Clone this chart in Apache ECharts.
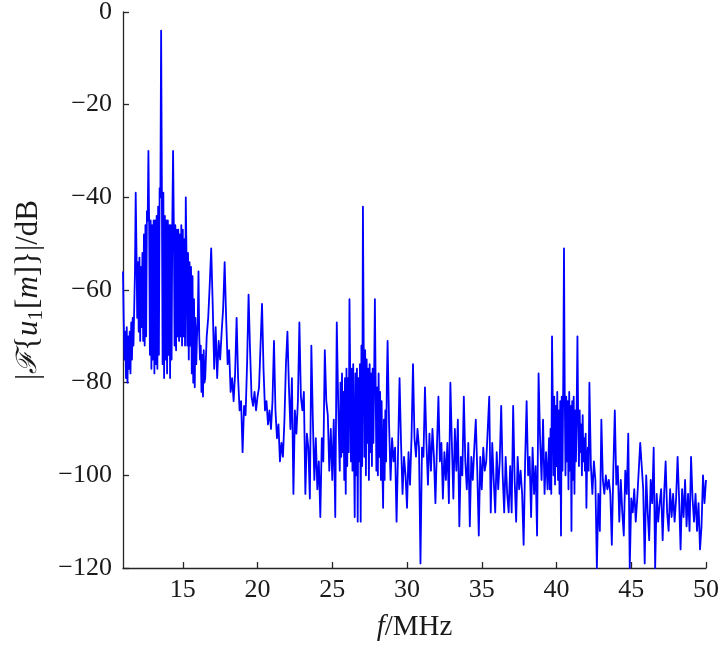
<!DOCTYPE html>
<html>
<head>
<meta charset="utf-8">
<script src="https://cdn.jsdelivr.net/npm/echarts@6/dist/echarts.min.js"></script>
<style>
html,body{margin:0;padding:0;background:#fff;}
#chart{width:719px;height:645px;}
</style>
</head>
<body>
<div id="chart"></div>
<script>
// Spectrum magnitude |F{u1[m]}| in dB.
// Dense bands are sampled every 0.05 MHz, the rest every 0.1 MHz.

// 11.00 ... 16.45 MHz, step 0.05
const band1Start = 11.0, band1Step = 0.05;
const band1Db = [
  -56,-67,-75,-69,-79,-68,-80,-70,-77,-69,
  -78,-67,-75,-66,-72,-64,-56,-39,-51,-66,
  -54,-69,-53,-71,-55,-68,-52,-71,-48,-72,
  -46,-70,-43,-45,-30,-46,-74,-45,-77,-46,
  -75,-45,-78,-45,-76,-44,-77,-42,-74,-38,
  -40,-4,-38,-76,-39,-79,-44,-75,-45,-78,
  -45,-74,-46,-79,-46,-75,-45,-30,-46,-72,
  -46,-73,-47,-70,-47,-71,-48,-70,-46,-72,
  -47,-70,-49,-72,-40,-53,-72,-52,-75,-54,
  -72,-55,-78,-57,-80,-62,-81,-66,-76,-70,
  -67,-56,-70,-75,-72,-82,-74,-83,-73,-80
];
// 16.5 ... 25.4 MHz, step 0.1
const band2Start = 16.5, band2Step = 0.1;
const band2Db = [
  -79,-70,-66,-59,-51,
  -63,-77,-68,-79,-71,-75,-69,-64,-54,-66,
  -76,-73,-82,-79,-84,-78,-66,-79,-86,-84,
  -95,-85,-87,-76,-61,-73,-83,-85,-82,-86,
  -83,-81,-72,-63,-77,-86,-84,-89,-86,-90,
  -84,-71,-86,-92,-89,-97,-93,-96,-88,-76,
  -69,-81,-90,-79,-104,-86,-91,-84,-67,-83,
  -86,-82,-104,-91,-94,-105,-72,-88,-101,-92,
  -103,-97,-109,-92,-97,-73,-84,-87,-99,-90,
  -101,-88,-109,-67,-85
];
// 25.50 ... 28.65 MHz, step 0.05
const band3Start = 25.5, band3Step = 0.05;
const band3Db = [
  -99,-80,-96,-78,-95,-82,-101,-79,-104,-77,
  -98,-79,-95,-62,-78,-97,-77,-99,-76,-94,
  -109,-78,-100,-77,-110,-79,-97,-76,-110,-72,
  -98,-42,-71,-96,-73,-100,-75,-93,-77,-101,
  -76,-95,-78,-98,-77,-93,-79,-62,-80,-99,
  -81,-100,-78,-96,-82,-101,-84,-98,-107,-88,
  -101,-86,-97,-80
];
// 28.7 ... 39.4 MHz, step 0.1
const band4Start = 28.7, band4Step = 0.1;
const band4Db = [
  -71,-89,-101,
  -92,-97,-94,-110,-95,-79,-93,-104,-96,-100,
  -107,-95,-102,-92,-76,-92,-96,-90,-94,-119,
  -94,-96,-81,-93,-102,-91,-99,-90,-96,-106,
  -94,-83,-97,-93,-105,-95,-101,-93,-106,-80,
  -93,-105,-90,-99,-88,-111,-96,-100,-83,-97,
  -103,-93,-111,-96,-101,-94,-88,-99,-113,-96,
  -103,-94,-99,-97,-90,-83,-108,-93,-101,-108,
  -95,-103,-97,-85,-100,-108,-96,-104,-108,-98,
  -108,-85,-101,-110,-96,-103,-99,-104,-115,-97,
  -84,-100,-96,-109,-94,-104,-98,-113,-78,-92,
  -101,-88,-104,-95,-103
];
// 39.50 ... 42.15 MHz, step 0.05
const band5Start = 39.5, band5Step = 0.05;
const band5Db = [
  -92,-103,-90,-104,-70,-84,-100,-83,-102,-85,
  -98,-82,-101,-86,-104,-84,-113,-83,-99,-80,
  -51,-82,-100,-83,-97,-84,-103,-82,-99,-85,
  -112,-84,-101,-83,-104,-86,-97,-85,-70,-88,
  -98,-86,-95,-89,-100,-87,-97,-92,-99,-91,
  -107,-96,-94,-99
];
// 42.2 ... 50.0 MHz, step 0.1
const band6Start = 42.2, band6Step = 0.1;
const band6Db = [
  -80,-98,-104,-97,-101,-120,-104,-112,
  -88,-101,-104,-100,-103,-101,-104,-115,-99,-86,
  -102,-98,-110,-101,-108,-113,-99,-104,-91,-120,
  -105,-108,-103,-110,-105,-99,-93,-98,-103,-119,
  -100,-108,-114,-101,-106,-94,-120,-104,-110,-106,
  -103,-114,-104,-97,-108,-112,-103,-109,-104,-110,
  -105,-96,-105,-116,-103,-109,-101,-111,-104,-112,
  -96,-105,-110,-104,-112,-106,-116,-111,-100,-106,
  -101
];

const xTicks = [15, 20, 25, 30, 35, 40, 45, 50];
const xMin = 11, xMax = 50;
const yMin = -120, yMax = 0, yStep = 20;

const bands = [
  [band1Start, band1Step, band1Db],
  [band2Start, band2Step, band2Db],
  [band3Start, band3Step, band3Db],
  [band4Start, band4Step, band4Db],
  [band5Start, band5Step, band5Db],
  [band6Start, band6Step, band6Db]
];
const seriesData = [];
bands.forEach(([s, st, vals]) => {
  vals.forEach((v, k) => seriesData.push([+(s + k * st).toFixed(3), v]));
});

const serif = 'Liberation Serif';
const axisColor = '#262626';
const txt = '#1a1a1a';
const chart = echarts.init(document.getElementById('chart'), null, {renderer: 'canvas'});
chart.setOption({
  animation: false,
  backgroundColor: '#ffffff',
  grid: {left: 123, right: 13, top: 12, bottom: 77, containLabel: false, outerBoundsMode: 'none'},
  xAxis: {
    type: 'value', min: xMin, max: xMax,
    name: '{i|f}/MHz',
    nameLocation: 'middle', nameGap: 45,
    nameTextStyle: {fontFamily: serif, fontSize: 29, color: txt,
      rich: {i: {fontFamily: serif, fontStyle: 'italic', fontSize: 29, color: txt}}},
    axisLine: {show: true, onZero: false, lineStyle: {color: axisColor, width: 1.3}},
    axisTick: {show: true, inside: true, length: 6, customValues: xTicks, lineStyle: {color: axisColor, width: 1.3}},
    axisLabel: {customValues: xTicks, fontFamily: serif, fontSize: 26, color: txt, margin: 9},
    splitLine: {show: false}
  },
  yAxis: {
    type: 'value', min: yMin, max: yMax, interval: yStep,
    name: '|{s|ℱ}{{i|u}{sub|1}[{i|m}]}|/dB',
    nameLocation: 'middle', nameGap: 70, nameRotate: 90,
    nameTextStyle: {fontFamily: serif, fontSize: 31, lineHeight: 38, color: txt,
      rich: {
        i: {fontFamily: serif, fontStyle: 'italic', fontSize: 31, lineHeight: 38, color: txt},
        s: {fontFamily: 'DejaVu Serif', fontStyle: 'italic', fontSize: 28, lineHeight: 38, color: txt},
        sub: {fontFamily: serif, fontSize: 21, lineHeight: 21, padding: [17, 1, 0, 0], color: txt}
      }},
    axisLine: {show: true, onZero: false, lineStyle: {color: axisColor, width: 1.3}},
    axisTick: {show: true, inside: true, length: 6, lineStyle: {color: axisColor, width: 1.3}},
    axisLabel: {fontFamily: serif, fontSize: 26, color: txt, margin: 11,
      formatter: v => String(v).replace('-', '\u2212')},
    splitLine: {show: false}
  },
  series: [{
    type: 'line', data: seriesData, showSymbol: false, symbol: 'none',
    sampling: null, clip: true,
    lineStyle: {color: '#0000ff', width: 1.8, join: 'round'}
  }]
});
</script>
</body>
</html>
